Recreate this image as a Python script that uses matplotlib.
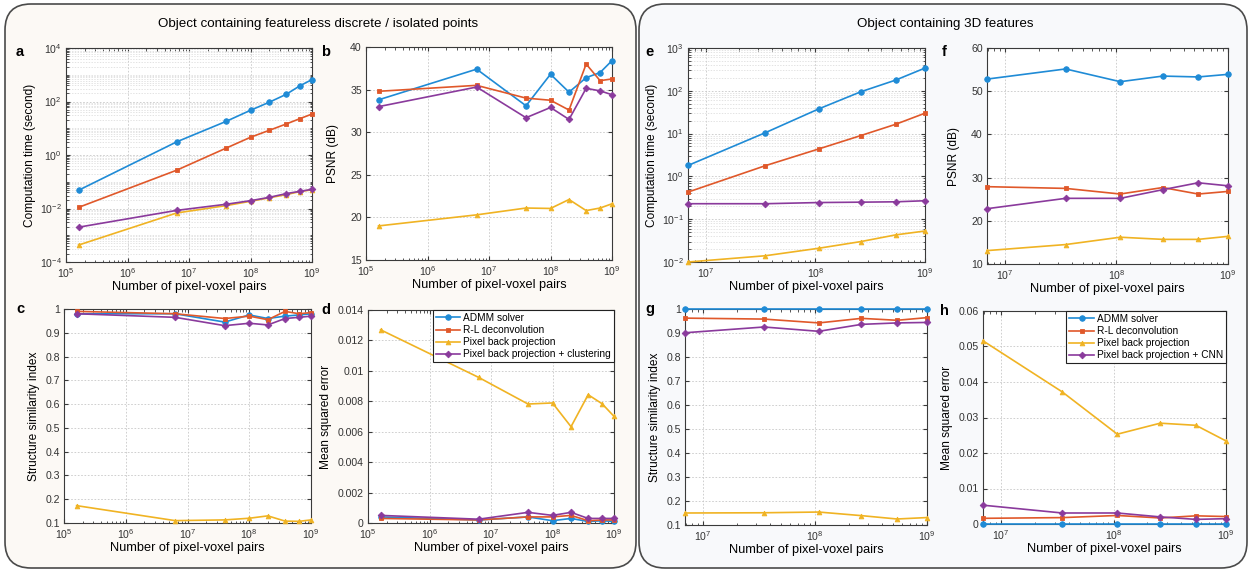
"""Reconstruction time / quality vs number of pixel-voxel pairs (two object types)."""

import matplotlib
matplotlib.use('Agg')
import matplotlib.pyplot as plt
import matplotlib.ticker as mticker
import matplotlib.transforms as mtransforms
from matplotlib.patches import FancyBboxPatch

plt.rcParams['font.family'] = ['Liberation Sans', 'DejaVu Sans']
plt.rcParams['mathtext.fontset'] = 'custom'
plt.rcParams['mathtext.rm'] = 'Liberation Sans'

W, H = 1253, 572

# ---- data: left block (featureless discrete / isolated points) ----
pairs_left = [1.6e5, 6.3e6, 4.0e7, 1.0e8, 2.0e8, 3.8e8, 6.4e8, 1.0e9]
time_admm_l = [0.048, 3.1, 18, 47, 93, 185, 390, 660]
time_rl_l = [0.011, 0.27, 1.8, 4.6, 8.3, 14.4, 23, 34]
time_pbp_l = [4.3e-4, 0.0068, 0.0128, 0.0186, 0.025, 0.033, 0.043, 0.05]
time_clu_l = [0.002, 0.0085, 0.0144, 0.0196, 0.026, 0.036, 0.044, 0.052]

psnr_admm_l = [33.8, 37.4, 33.1, 36.8, 34.7, 36.4, 37.0, 38.4]
psnr_rl_l = [34.8, 35.5, 34.0, 33.75, 32.6, 38.0, 36.05, 36.25]
psnr_pbp_l = [19.0, 20.3, 21.1, 21.05, 22.1, 20.8, 21.1, 21.6]
psnr_clu_l = [33.0, 35.3, 31.7, 32.9, 31.5, 35.15, 34.85, 34.4]

ssim_admm_l = [0.98, 0.98, 0.945, 0.975, 0.96, 0.97, 0.975, 0.98]
ssim_rl_l = [0.99, 0.98, 0.96, 0.97, 0.955, 0.99, 0.98, 0.985]
ssim_pbp_l = [0.173, 0.11, 0.113, 0.12, 0.13, 0.108, 0.107, 0.113]
ssim_clu_l = [0.98, 0.965, 0.93, 0.94, 0.933, 0.96, 0.965, 0.97]

mse_admm_l = [0.0004, 0.0002, 0.0004, 0.00015, 0.0003, 0.0001, 0.00015, 0.0001]
mse_rl_l = [0.0003, 0.0002, 0.0004, 0.0004, 0.0005, 0.00015, 0.0002, 0.0002]
mse_pbp_l = [0.0127, 0.00957, 0.00782, 0.00789, 0.00633, 0.00843, 0.00784, 0.00701]
mse_clu_l = [0.0005, 0.00025, 0.0007, 0.0005, 0.0007, 0.0003, 0.0003, 0.0003]

# ---- data: right block (3D features) ----
pairs_right = [6.9e6, 3.5e7, 1.08e8, 2.6e8, 5.4e8, 1.0e9]
time_admm_r = [1.8, 10.5, 38, 95, 178, 340]
time_rl_r = [0.43, 1.78, 4.4, 9.0, 16.5, 30]
time_pbp_r = [0.010, 0.014, 0.021, 0.030, 0.043, 0.053]
time_cnn_r = [0.23, 0.23, 0.245, 0.25, 0.255, 0.27]

psnr_admm_r = [52.8, 55.15, 52.2, 53.5, 53.3, 53.9]
psnr_rl_r = [27.9, 27.5, 26.2, 27.7, 26.2, 26.8]
psnr_pbp_r = [13.1, 14.5, 16.2, 15.7, 15.7, 16.4]
psnr_cnn_r = [22.8, 25.2, 25.2, 27.2, 28.8, 28.1]

ssim_admm_r = [0.999, 0.999, 0.999, 0.999, 0.999, 0.999]
ssim_rl_r = [0.962, 0.958, 0.942, 0.961, 0.953, 0.964]
ssim_pbp_r = [0.15, 0.151, 0.154, 0.139, 0.125, 0.131]
ssim_cnn_r = [0.901, 0.925, 0.907, 0.936, 0.942, 0.944]

mse_admm_r = [0.0, 0.0, 0.0, 0.0, 0.0, 0.0]
mse_rl_r = [0.0016, 0.0018, 0.0024, 0.0017, 0.0023, 0.0021]
mse_pbp_r = [0.0516, 0.0372, 0.0253, 0.0284, 0.0278, 0.0234]
mse_cnn_r = [0.0053, 0.0031, 0.0031, 0.002, 0.0013, 0.0015]

labels_left = ['ADMM solver', 'R-L deconvolution', 'Pixel back projection',
               'Pixel back projection + clustering']
labels_right = ['ADMM solver', 'R-L deconvolution', 'Pixel back projection',
                'Pixel back projection + CNN']

COLORS = ['#1f8bd6', '#e0582a', '#f0b323', '#8a3a9c']
MARKERS = ['o', 's', '^', 'D']
EDGE = '#3a3a3a'
XLABEL = 'Number of pixel-voxel pairs'
LABEL_FS = 8.6
TICK_FS = 7.6

fig = plt.figure(figsize=(W / 100, H / 100), dpi=100)


def add_box(x0, y0, x1, y1, face):
    """Rounded panel box, coordinates in pixels from the top-left corner."""
    box = FancyBboxPatch((x0, H - y1), x1 - x0, y1 - y0,
                         boxstyle='round,pad=0,rounding_size=26',
                         transform=mtransforms.IdentityTransform(),
                         facecolor=face, edgecolor='#4a4a4a', linewidth=1.2,
                         zorder=-10)
    fig.patches.append(box)


add_box(5, 4, 636, 568, '#fcf9f5')
add_box(639, 4, 1247, 568, '#f8f9fb')

fig.text(318 / W, 1 - 24 / H, 'Object containing featureless discrete / isolated points',
         ha='center', va='center', fontsize=9.6)
fig.text(945 / W, 1 - 24 / H, 'Object containing 3D features',
         ha='center', va='center', fontsize=9.6)


def make_axes(left, top, right, bottom, letter, lx, ly):
    ax = fig.add_axes([left / W, 1 - bottom / H, (right - left) / W, (bottom - top) / H])
    ax.set_facecolor('white')
    for s in ax.spines.values():
        s.set_color(EDGE)
        s.set_linewidth(0.8)
    ax.tick_params(which='both', direction='in', top=True, right=True,
                   colors=EDGE, labelcolor='#333333', labelsize=TICK_FS)
    ax.tick_params(which='major', length=3, pad=3)
    ax.tick_params(which='minor', length=1.8)
    ax.grid(True, which='major', linestyle=(0, (2, 2)), color='#c8c8c8', linewidth=0.6)
    fig.text(lx / W, 1 - ly / H, letter, fontsize=10.5, fontweight='bold',
             ha='center', va='center')
    return ax


def draw_lines(ax, x, series):
    for ys, c, m in zip(series, COLORS, MARKERS):
        ax.plot(x, ys, color=c, marker=m, markersize=3.4 if m != 'o' else 4,
                linewidth=1.2, markeredgewidth=0.6, markerfacecolor=c,
                markeredgecolor=c, clip_on=False, zorder=3)


def log_x(ax, lo, hi):
    ax.set_xscale('log')
    ax.set_xlim(lo, hi)
    ax.xaxis.set_major_locator(mticker.LogLocator(base=10, numticks=20))
    ax.xaxis.set_minor_locator(mticker.LogLocator(base=10, subs=range(2, 10), numticks=20))
    ax.xaxis.set_minor_formatter(mticker.NullFormatter())
    ax.set_xlabel(XLABEL, fontsize=LABEL_FS + 0.6, labelpad=1)


def log_y(ax, lo, hi, step):
    ax.set_yscale('log')
    ax.set_ylim(lo, hi)
    ax.yaxis.set_major_locator(mticker.LogLocator(base=10 ** step, numticks=20))
    ax.yaxis.set_minor_locator(mticker.LogLocator(base=10, subs=range(1, 10), numticks=30))
    ax.yaxis.set_minor_formatter(mticker.NullFormatter())
    ax.grid(True, which='minor', axis='y', linestyle=(0, (2, 2)), color='#d8d8d8',
            linewidth=0.5)


plain = mticker.FuncFormatter(lambda v, p: '%g' % round(v, 6))


def add_legend(ax, labels):
    leg = ax.legend(labels, loc='upper right', fontsize=7.3, borderaxespad=0,
                    fancybox=False, framealpha=1, edgecolor='#222222',
                    handlelength=2.4, handletextpad=0.3, borderpad=0.3,
                    labelspacing=0.2)
    leg.get_frame().set_linewidth(0.8)
    leg.set_zorder(5)


# a
ax = make_axes(66, 48, 312, 262, 'a', 20, 52)
draw_lines(ax, pairs_left, [time_admm_l, time_rl_l, time_pbp_l, time_clu_l])
log_x(ax, 1e5, 1e9)
log_y(ax, 1e-4, 1e4, 2)
ax.set_ylabel('Computation time (second)', fontsize=LABEL_FS, labelpad=3)

# b
ax = make_axes(366, 47, 612, 260, 'b', 326, 52)
draw_lines(ax, pairs_left, [psnr_admm_l, psnr_rl_l, psnr_pbp_l, psnr_clu_l])
log_x(ax, 1e5, 1e9)
ax.set_ylim(15, 40)
ax.set_yticks([15, 20, 25, 30, 35, 40])
ax.set_ylabel('PSNR (dB)', fontsize=LABEL_FS, labelpad=8)

# c
ax = make_axes(64, 309, 311, 523, 'c', 20, 309)
draw_lines(ax, pairs_left, [ssim_admm_l, ssim_rl_l, ssim_pbp_l, ssim_clu_l])
log_x(ax, 1e5, 1e9)
ax.set_ylim(0.1, 1)
ax.set_yticks([0.1, 0.2, 0.3, 0.4, 0.5, 0.6, 0.7, 0.8, 0.9, 1.0])
ax.yaxis.set_major_formatter(plain)
ax.set_ylabel('Structure similarity index', fontsize=LABEL_FS, labelpad=4)

# d
ax = make_axes(368, 310, 614, 523, 'd', 326, 310)
draw_lines(ax, pairs_left, [mse_admm_l, mse_rl_l, mse_pbp_l, mse_clu_l])
log_x(ax, 1e5, 1e9)
ax.set_ylim(0, 0.014)
ax.set_yticks([0, 0.002, 0.004, 0.006, 0.008, 0.01, 0.012, 0.014])
ax.yaxis.set_major_formatter(plain)
ax.set_ylabel('Mean squared error', fontsize=LABEL_FS, labelpad=4)
add_legend(ax, labels_left)

# e
ax = make_axes(688, 48, 925, 262, 'e', 650, 52)
draw_lines(ax, pairs_right, [time_admm_r, time_rl_r, time_pbp_r, time_cnn_r])
log_x(ax, 6.9e6, 1e9)
log_y(ax, 1e-2, 1e3, 1)
ax.set_ylabel('Computation time (second)', fontsize=LABEL_FS, labelpad=3)

# f
ax = make_axes(987, 48, 1228, 264, 'f', 944, 52)
draw_lines(ax, pairs_right, [psnr_admm_r, psnr_rl_r, psnr_pbp_r, psnr_cnn_r])
log_x(ax, 6.9e6, 1e9)
ax.set_ylim(10, 60)
ax.set_yticks([10, 20, 30, 40, 50, 60])
ax.set_ylabel('PSNR (dB)', fontsize=LABEL_FS, labelpad=8)

# g
ax = make_axes(685, 309, 927, 525, 'g', 650, 309)
draw_lines(ax, pairs_right, [ssim_admm_r, ssim_rl_r, ssim_pbp_r, ssim_cnn_r])
log_x(ax, 6.9e6, 1e9)
ax.set_ylim(0.1, 1)
ax.set_yticks([0.1, 0.2, 0.3, 0.4, 0.5, 0.6, 0.7, 0.8, 0.9, 1.0])
ax.yaxis.set_major_formatter(plain)
ax.set_ylabel('Structure similarity index', fontsize=LABEL_FS, labelpad=4)

# h
ax = make_axes(983, 311, 1226, 524, 'h', 944, 311)
draw_lines(ax, pairs_right, [mse_admm_r, mse_rl_r, mse_pbp_r, mse_cnn_r])
log_x(ax, 6.9e6, 1e9)
ax.set_ylim(0, 0.06)
ax.set_yticks([0, 0.01, 0.02, 0.03, 0.04, 0.05, 0.06])
ax.yaxis.set_major_formatter(plain)
ax.set_ylabel('Mean squared error', fontsize=LABEL_FS, labelpad=4)
add_legend(ax, labels_right)

fig.savefig('out.png', dpi=100, facecolor='white')
